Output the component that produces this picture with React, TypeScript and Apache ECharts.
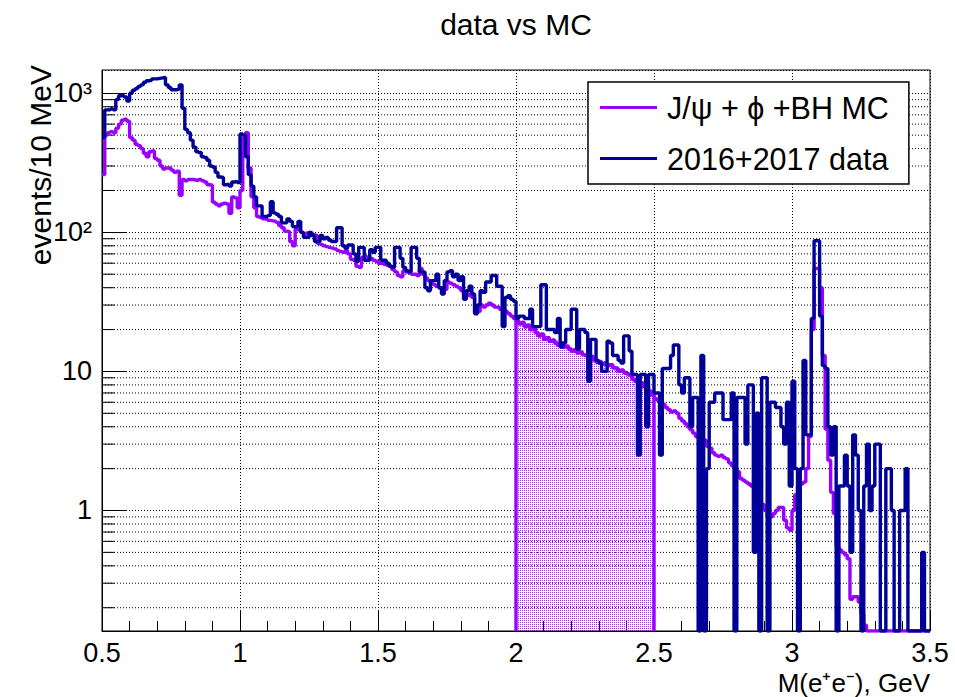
import React, { useEffect, useRef } from 'react';
import * as echarts from 'echarts';

// ---------- axis / binning ----------
const X_MIN = 0.5;
const X_MAX = 3.5;
const X_INTERVAL = 0.5;
const BIN_WIDTH = 0.01; // 10 MeV
const Y_MIN = 0.136;
const Y_MAX = 1470;
const FILL_FROM = 2.0;
const FILL_TO = 2.5;

const TITLE = 'data vs MC';
const X_TITLE = 'M(e⁺e⁻), GeV';
const Y_TITLE = 'events/10 MeV';
const MC_NAME = 'J/ψ + ϕ +BH MC';
const DATA_NAME = '2016+2017 data';

const Y_TICK_LABELS: Record<number, string> = { 0: '1', 1: '10', 2: '10²', 3: '10³' };
const Y_MINOR_TICKS = [
  0.2, 0.3, 0.4, 0.5, 0.6, 0.7, 0.8, 0.9,
  2, 3, 4, 5, 6, 7, 8, 9,
  20, 30, 40, 50, 60, 70, 80, 90,
  200, 300, 400, 500, 600, 700, 800, 900,
];

// ---------- data histogram (2016+2017), 10 MeV bins ----------
const dataSeg0 = [ // 0.50 - 0.99
  480, 760, 760, 770, 760, 900, 960, 960, 940, 880,
  1000, 1050, 1080, 1120, 1150, 1200, 1230, 1240, 1270, 1270,
  1280, 1290, 1300, 1150, 1100, 1060, 1060, 1070, 1150, 780,
  550, 520, 460, 410, 380, 375, 350, 345, 330, 300,
  295, 270, 250, 248, 220, 222, 215, 230, 232, 228,
];
const dataSeg1 = [ // 1.00 - 1.49
  510, 500, 350, 260, 215, 180, 155, 155, 130, 130,
  132, 166, 138, 135, 130, 117, 117, 125, 120, 110,
  110, 120, 100, 92, 92, 100, 95, 86, 86, 95,
  90, 92, 88, 86, 86, 108, 108, 80, 77, 81,
  81, 70, 62, 78, 78, 63, 63, 75, 72, 78,
];
const dataSeg2 = [ // 1.50 - 1.99
  78, 63, 63, 60, 57, 56, 78, 78, 65, 56,
  53, 52, 78, 78, 65, 52, 52, 40, 38, 45,
  45, 50, 40, 36, 45, 52, 53, 48, 50, 45,
  48, 33, 38, 41, 36, 26, 30, 38, 37, 44,
  44, 49, 49, 41, 41, 21, 34, 35, 33, 32,
];
const dataSeg3 = [ // 2.00 - 2.49
  24, 25, 25, 24, 24, 28, 21, 21, 21, 42,
  42, 20, 20, 20, 19, 24, 15, 16, 20, 20,
  28, 28, 14.5, 20, 20, 19, 8.5, 17, 17, 12,
  11.5, 10, 10, 16.5, 16, 13, 13, 12, 11.5, 18,
  18, 14, 9.5, 9.5, 2.5, 9.5, 9.5, 4, 9.5, 9.5,
];
const dataSeg4 = [ // 2.50 - 2.99
  7, 7, 2.5, 10.5, 10.5, 10.5, 13, 15.5, 15.5, 8,
  7, 9, 9, 4, 6.5, 6.5, 0, 13, 0, 2,
  6, 6, 7, 7, 7, 4.5, 4.5, 4.5, 7, 0,
  6.5, 6.5, 6.5, 3, 8, 8, 0.5, 5, 0, 9,
  9, 0, 6, 6, 5.5, 5.5, 4, 3, 6, 1.5,
];
const dataSeg5 = [ // 3.00 - 3.49
  8.5, 2, 0, 2, 12, 3.5, 3.5, 24, 87, 87,
  25, 11, 10.5, 4, 2.5, 4, 0, 1.5, 1.5, 2.5,
  1.5, 0.5, 3.5, 2.5, 1, 0, 1.5, 3, 1, 1.5,
  3, 3, 0, 0, 2, 2, 1, 0, 0, 1,
  1, 2, 0, 0, 0, 0, 0, 0.5, 0, 0,
];

// ---------- MC histogram (J/psi + phi + BH) ----------
const mcSeg0 = [ // 0.50 - 0.99
  260, 500, 520, 530, 520, 560, 600, 640, 650, 630,
  480, 460, 430, 420, 400, 370, 350, 380, 385, 340,
  330, 300, 285, 290, 290, 280, 270, 275, 185, 240,
  235, 240, 240, 238, 236, 240, 235, 230, 220, 218,
  165, 160, 155, 160, 162, 160, 137, 180, 177, 150,
];
const mcSeg1 = [ // 1.00 - 1.49
  200, 480, 520, 290, 180, 150, 130, 128, 125, 124,
  122, 121, 120, 118, 112, 108, 102, 101, 86, 80,
  106, 104, 100, 97, 99, 97, 96, 95, 83, 82,
  80, 79, 78, 77, 76, 74, 73, 72, 74, 70,
  64, 63, 57, 56, 66, 67, 66, 65, 63, 62,
];
const mcSeg2 = [ // 1.50 - 1.99
  60, 60, 59, 58, 57, 54, 52, 49, 48, 53,
  52, 51, 50, 50, 49, 55, 50, 47, 45, 43,
  42, 41, 40, 40, 39, 44, 43, 42, 41, 40,
  38, 37, 36, 35, 34, 27, 27, 30, 29, 30,
  31, 30, 29, 29, 28, 28, 27, 26, 25, 24,
];
const mcSeg3 = [ // 2.00 - 2.49
  23, 22, 22.5, 21, 21.5, 20, 20.5, 19, 18, 18.5,
  17, 17.5, 16.5, 16.8, 16, 15.5, 16, 15, 15.2, 14.5,
  14, 14.3, 13.6, 13.8, 13.2, 13, 12.6, 12.8, 12, 11.7,
  11.8, 11.3, 11.5, 11, 11.2, 10.6, 10.5, 10, 10.2, 9.8,
  9.6, 9.4, 8.8, 8.5, 8.2, 8.3, 7.8, 7.7, 7.2, 6.8,
];
const mcSeg4 = [ // 2.50 - 2.99
  6.4, 6.2, 6.1, 5.8, 5.5, 5.3, 5.1, 5.2, 5.0, 4.6,
  4.4, 4.2, 4.0, 3.8, 3.6, 3.4, 3.3, 3.25, 3.2, 2.9,
  2.8, 2.6, 2.5, 2.45, 2.5, 2.4, 2.35, 2.2, 2.1, 2.05,
  1.9, 1.7, 1.65, 1.6, 1.55, 1.5, 1.5, 1.3, 1.15, 1.1,
  1.0, 0.92, 0.9, 0.95, 1.0, 1.05, 1.05, 0.85, 0.75, 0.72,
];
const mcSeg5 = [ // 3.00 - 3.49
  1.0, 1.3, 1.5, 1.55, 1.6, 2.0, 3.4, 20, 55, 55,
  40, 13, 3.85, 2.3, 1.35, 0.95, 0.55, 0.52, 0.5, 0.48,
  0.45, 0.23, 0.24, 0.24, 0.22, 0.18, 0.15, 0, 0, 0,
  0, 0, 0, 0, 0, 0, 0, 0, 0, 0,
  0, 0, 0, 0, 0, 0, 0, 0, 0, 0,
];

const DATA_COUNTS = [...dataSeg0, ...dataSeg1, ...dataSeg2, ...dataSeg3, ...dataSeg4, ...dataSeg5];
const MC_COUNTS = [...mcSeg0, ...mcSeg1, ...mcSeg2, ...mcSeg3, ...mcSeg4, ...mcSeg5];

// ---------- styles ----------
const FONT = '"Liberation Sans", Arial, Helvetica, sans-serif';
const MC_COLOR = '#9900ff';
const DATA_COLOR = '#000099';
const LINE_WIDTH = 3.4;

function binEdge(i: number) {
  return Math.round((X_MIN + i * BIN_WIDTH) * 1000) / 1000;
}

function histogramPoints(counts: number[]) {
  const pts: number[][] = counts.map((c, i) => [binEdge(i), c > 0 ? c : Y_MIN]);
  pts.push([X_MAX, pts[pts.length - 1][1]]);
  return pts;
}

function fillPoints(counts: number[]) {
  const first = Math.round((FILL_FROM - X_MIN) / BIN_WIDTH);
  const last = Math.round((FILL_TO - X_MIN) / BIN_WIDTH);
  const pts: number[][] = [[FILL_FROM, Y_MIN]];
  for (let i = first; i < last; i++) pts.push([binEdge(i), counts[i]]);
  pts.push([FILL_TO, counts[last - 1]]);
  pts.push([FILL_TO, Y_MIN]);
  return pts;
}

function makeDotPattern(color: string) {
  const c = document.createElement('canvas');
  c.width = 2;
  c.height = 2;
  const ctx = c.getContext('2d');
  if (ctx) {
    ctx.fillStyle = color;
    ctx.globalAlpha = 0.85;
    ctx.fillRect(0, 0, 1, 1);
  }
  return c;
}

function buildOption() {
  const dotted = { color: '#000', width: 1, type: [1, 2] };
  return {
    animation: false,
    backgroundColor: '#ffffff',
    title: {
      text: TITLE,
      left: 516,
      top: 9,
      padding: 0,
      textAlign: 'center',
      textStyle: { fontFamily: FONT, fontSize: 30, fontWeight: 'normal', color: '#000' },
    },
    legend: {
      left: 588,
      top: 82,
      orient: 'vertical',
      selectedMode: false,
      backgroundColor: '#ffffff',
      borderColor: '#000',
      borderWidth: 1.5,
      padding: [10, 20, 10, 12],
      itemWidth: 57,
      itemHeight: 3,
      itemGap: 20,
      icon: 'rect',
      textStyle: { fontFamily: FONT, fontSize: 30.5, color: '#000', padding: [0, 0, 0, 5] },
      data: [MC_NAME, DATA_NAME],
    },
    grid: {
      left: 102,
      right: 25,
      top: 70,
      bottom: 66,
      show: true,
      borderColor: '#000',
      borderWidth: 1,
      backgroundColor: 'transparent',
    },
    xAxis: {
      type: 'value',
      min: X_MIN,
      max: X_MAX,
      interval: X_INTERVAL,
      axisLine: { show: true, onZero: false, lineStyle: { color: '#000', width: 1 } },
      axisTick: { show: true, inside: true, length: 20, lineStyle: { color: '#000', width: 1 } },
      minorTick: { show: true, splitNumber: 5, length: 10, lineStyle: { color: '#000', width: 1 } },
      splitLine: { show: true, lineStyle: dotted },
      axisLabel: {
        color: '#000',
        fontFamily: FONT,
        fontSize: 27,
        margin: 8,
        formatter: (v: number) => String(Math.round(v * 10) / 10),
      },
    },
    yAxis: {
      type: 'log',
      logBase: 10,
      min: Y_MIN,
      max: Y_MAX,
      axisLine: { show: true, lineStyle: { color: '#000', width: 1 } },
      axisTick: { show: true, inside: true, length: 25, lineStyle: { color: '#000', width: 1 } },
      splitLine: { show: true, lineStyle: dotted },
      axisLabel: {
        color: '#000',
        fontFamily: FONT,
        fontSize: 27,
        margin: 10,
        showMinLabel: false,
        showMaxLabel: false,
        formatter: (v: number) => {
          const e = Math.log10(v);
          const r = Math.round(e);
          if (Math.abs(e - r) > 1e-6) return '';
          return Y_TICK_LABELS[r] ?? '';
        },
      },
    },
    graphic: [
      {
        type: 'text',
        x: 40,
        y: 65,
        rotation: Math.PI / 2,
        style: {
          text: Y_TITLE,
          fontFamily: FONT,
          fontSize: 30,
          fill: '#000',
          align: 'right',
          verticalAlign: 'middle',
        },
      },
      {
        type: 'text',
        x: 930,
        y: 683,
        style: {
          text: X_TITLE,
          fontFamily: FONT,
          fontSize: 26,
          fill: '#000',
          align: 'right',
          verticalAlign: 'middle',
        },
      },
    ],
    series: [
      {
        type: 'custom',
        name: 'minor grid',
        silent: true,
        z: 1,
        coordinateSystem: 'cartesian2d',
        encode: { x: 0, y: 1 },
        data: Y_MINOR_TICKS.map((v) => [X_MIN, v]),
        renderItem: (_params: any, api: any) => {
          const v = api.value(1);
          const p0 = api.coord([X_MIN, v]);
          const p1 = api.coord([X_MAX, v]);
          return {
            type: 'group',
            children: [
              {
                type: 'line',
                shape: { x1: p0[0], y1: p0[1], x2: p1[0], y2: p1[1] },
                style: { stroke: '#000', lineWidth: 1, lineDash: [1, 2] },
              },
              {
                type: 'line',
                shape: { x1: p0[0], y1: p0[1], x2: p0[0] + 12.5, y2: p0[1] },
                style: { stroke: '#000', lineWidth: 1 },
              },
            ],
          };
        },
      },
      {
        type: 'line',
        name: 'MC 2.0-2.5 GeV',
        step: 'end',
        symbol: 'none',
        z: 2,
        data: fillPoints(MC_COUNTS),
        lineStyle: { color: MC_COLOR, width: LINE_WIDTH },
        itemStyle: { color: MC_COLOR },
        areaStyle: {
          origin: 'start',
          opacity: 1,
          color: { image: makeDotPattern(MC_COLOR), repeat: 'repeat' },
        },
      },
      {
        type: 'line',
        name: MC_NAME,
        step: 'end',
        symbol: 'none',
        z: 3,
        data: histogramPoints(MC_COUNTS),
        lineStyle: { color: MC_COLOR, width: LINE_WIDTH },
        itemStyle: { color: MC_COLOR },
      },
      {
        type: 'line',
        name: DATA_NAME,
        step: 'end',
        symbol: 'none',
        z: 4,
        data: histogramPoints(DATA_COUNTS),
        lineStyle: { color: DATA_COLOR, width: LINE_WIDTH },
        itemStyle: { color: DATA_COLOR },
      },
    ],
  };
}

export default function App() {
  const ref = useRef<HTMLDivElement>(null);
  useEffect(() => {
    if (!ref.current) return;
    const chart = echarts.init(ref.current, undefined, { renderer: 'svg' });
    chart.setOption(buildOption() as any);
    return () => {
      chart.dispose();
    };
  }, []);
  return (
    <div
      ref={ref}
      style={{ position: 'fixed', left: 0, top: 0, width: 955, height: 697, background: '#fff' }}
    />
  );
}
